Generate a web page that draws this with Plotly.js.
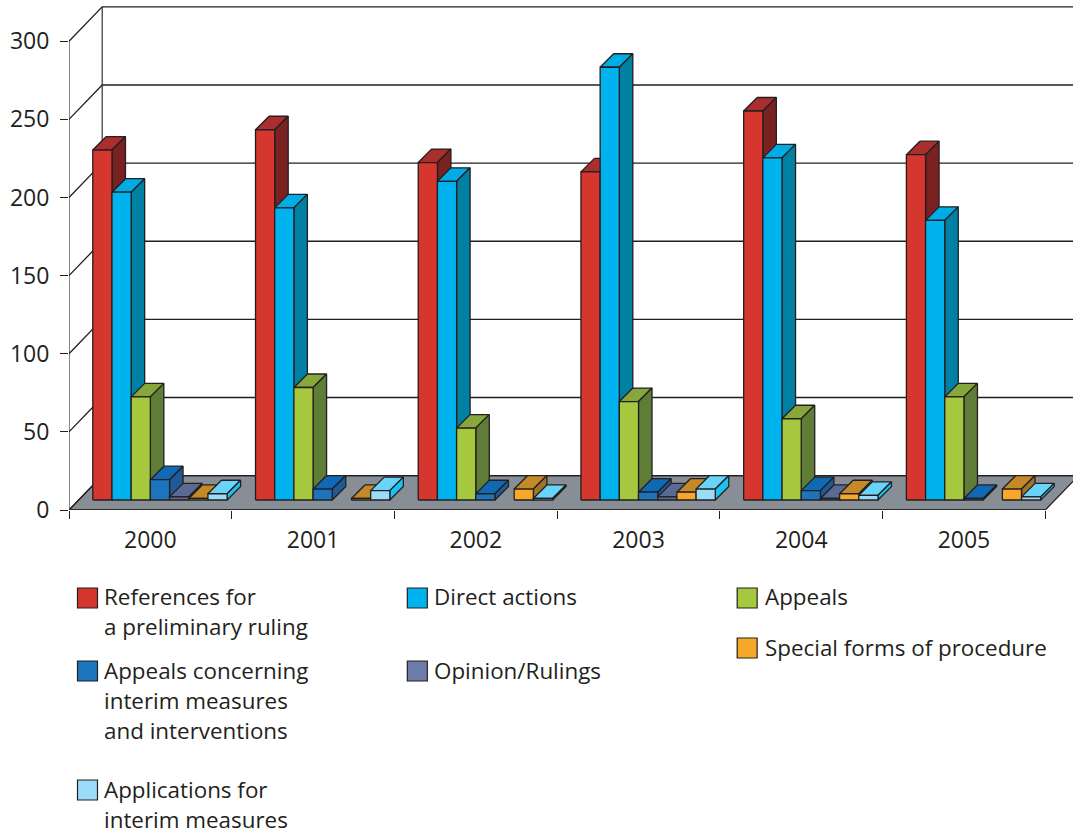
<!DOCTYPE html>
<html><head><meta charset="utf-8">
<script src="https://cdn.plot.ly/plotly-3.0.1.min.js"></script>
<style>html,body{margin:0;padding:0;background:#fff}#c{width:1073px;height:834px}</style>
</head><body><div id="c"></div>
<script>
const years = ['2000','2001','2002','2003','2004','2005'];
const references = [224,237,216,210,249,221];
const directActions = [197,187,204,277,219,179];
const appeals = [66,72,46,63,52,66];
const interimAppeals = [13,7,4,5,6,1];
const opinions = [2,null,null,2,1,null];
const specialForms = [1,1,7,5,4,7];
const interimApplications = [4,6,1,7,3,2];
const seriesValues = [references,directActions,appeals,interimAppeals,opinions,specialForms,interimApplications];
const frontColors = ['#D5372E','#00B3EF','#A6C83E','#1C75BC','#5B6B97','#F7A72A','#9BDDF9'];
const topColors = ['#A92E2D','#00ACE6','#87A63C','#0F69B4','#5A6A94','#C38A27','#6AD3F8'];
const sideColors = ['#7A2121','#0080A3','#5F7D36','#1F5A96','#49557A','#A0732A','#1CC2F0'];
const swatchColors = ['#D5372E','#00B3EF','#A6C83E','#1C75BC','#6D7BA8','#F7A72A','#9BDDF9'];
const legendLabels = [['References for','a preliminary ruling'],['Direct actions'],['Appeals'],['Appeals concerning','interim measures','and interventions'],['Opinion/Rulings'],['Special forms of procedure'],['Applications for','interim measures']];
const legendX = [77,407,737,77,407,737,77];
const legendY = [588,588,588,661,661,638,780];
const legendTextX = [103,432.5,764,103,432.5,764,103];
const legendTextY = [596,596,596,670,670,647,789];
const yTicks = [0,50,100,150,200,250,300];
const INK = '#231F20';

// pixel layout: the plot box reaches the top and right page edges so the back wall can be drawn
const L=68.5,Rx=1045.3,T=41.3,B=510;
const catPx=(Rx-L)/6, uY=(B-T)/300;
const xMax=(1073-L)/catPx, yMax=B/uY;
const dx=p=>p/catPx, dy=p=>p/uY;
const wallX=33.2, wallY=34.4, barD=13.5, baseLift=10, barW=19.2, firstBar=23.8;

function barX(c,s,d){return c+dx(firstBar+s*barW+d);}
function barY(v,d){return v+dy(baseLift+d);}
function polys(idx,fn){
  const x=[],y=[];
  seriesValues[idx].forEach((v,c)=>{ if(v===null)return;
    const p=fn(c,v);
    p.concat([p[0]]).forEach(q=>{x.push(q[0]);y.push(q[1]);});
    x.push(null);y.push(null);
  });
  return {x,y};
}
const traces=[];
function area(xy,color,lw){traces.push({type:'scatter',mode:'lines',x:xy.x,y:xy.y,fill:'toself',fillcolor:color,
  line:{color:INK,width:lw===undefined?1.3:lw},hoverinfo:'skip',connectgaps:false,showlegend:false});}
function wire(x,y,w){traces.push({type:'scatter',mode:'lines',x,y,line:{color:INK,width:w||1},hoverinfo:'skip',showlegend:false});}

// floor
area({x:[0,6,6+dx(wallX),dx(wallX),0],y:[0,0,dy(wallY),dy(wallY),0]},'#878E95',1.2);
// back wall + side wall
yTicks.forEach(v=>{ wire([0,dx(wallX),xMax+1],[v,v+dy(wallY),v+dy(wallY)],1.3); });
wire([dx(wallX),dx(wallX)],[dy(wallY),300+dy(wallY)],1.1);

// bars, left to right so each front covers its neighbour's side
seriesValues.forEach((_,s)=>{
  area(polys(s,(c,v)=>[[barX(c,s,barD),barY(v,barD)],[barX(c,s+1,barD),barY(v,barD)],[barX(c,s+1,0),barY(v,0)],[barX(c,s,0),barY(v,0)]]),topColors[s]);
  area(polys(s,(c,v)=>[[barX(c,s+1,0),barY(0,0)],[barX(c,s+1,barD),barY(0,barD)],[barX(c,s+1,barD),barY(v,barD)],[barX(c,s+1,0),barY(v,0)]]),sideColors[s]);
  area(polys(s,(c,v)=>[[barX(c,s,0),barY(0,0)],[barX(c,s+1,0),barY(0,0)],[barX(c,s+1,0),barY(v,0)],[barX(c,s,0),barY(v,0)]]),frontColors[s]);
});
// axis lines stop at the last tick
wire([0,6],[0,0],1.5);
wire([0,0],[0,300],1.1);

const px=x=>(x-L)/(1073-L), py=y=>(B-y)/B;
const tickFont={family:'"Open Sans",sans-serif',size:23,color:INK};
const legendFont={family:'"Open Sans",sans-serif',size:22.4,color:INK};
const legendText=[];
legendLabels.forEach((lines,i)=>lines.forEach((t,j)=>legendText.push({xref:'paper',yref:'paper',
  x:px(legendTextX[i]),y:py(legendTextY[i]+j*30),xanchor:'left',yanchor:'middle',align:'left',showarrow:false,text:t,font:legendFont,borderpad:0})));
const layout={
  width:1073,height:834,autosize:false,
  margin:{l:L,r:0,t:0,b:834-B,pad:0},
  paper_bgcolor:'#fff',plot_bgcolor:'rgba(0,0,0,0)',showlegend:false,hovermode:false,
  xaxis:{range:[0,xMax],showgrid:false,zeroline:false,showline:false,
    tickmode:'array',tickvals:years.map((_,i)=>i+0.5),ticktext:years,ticks:'',tickfont:tickFont,ticklabelstandoff:14,
    minor:{tickmode:'array',tickvals:[0,1,2,3,4,5,6],ticks:'outside',ticklen:8,tickwidth:1,tickcolor:INK,showgrid:false},fixedrange:true},
  yaxis:{range:[0,yMax],showgrid:false,zeroline:false,showline:false,
    tickmode:'array',tickvals:yTicks,ticks:'outside',ticklen:8,tickwidth:1,tickcolor:INK,tickfont:tickFont,ticklabelstandoff:6,fixedrange:true},
  shapes:legendLabels.map((_,i)=>({type:'rect',xref:'paper',yref:'paper',x0:px(legendX[i]),x1:px(legendX[i]+20),y0:py(legendY[i]),y1:py(legendY[i]+20),
    fillcolor:swatchColors[i],line:{color:INK,width:1.2}})),
  annotations:legendText
};
Plotly.newPlot('c',traces,layout,{displayModeBar:false,staticPlot:true});
</script></body></html>
